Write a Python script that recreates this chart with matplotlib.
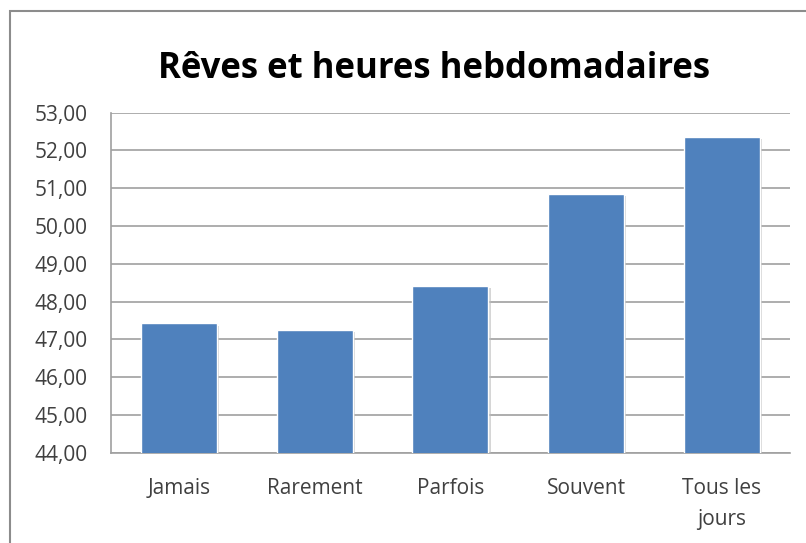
import matplotlib.pyplot as plt
import matplotlib.patheffects as pe
from matplotlib.patches import Rectangle
from matplotlib.ticker import FuncFormatter

categories = ["Jamais", "Rarement", "Parfois", "Souvent", "Tous les\njours"]
heures = [47.42, 47.26, 48.41, 50.85, 52.35]
titre = "Rêves et heures hebdomadaires"

plt.rcParams['font.family'] = ['Open Sans', 'DejaVu Sans']

fig = plt.figure(figsize=(8.06, 5.43), dpi=100)
ax = fig.add_axes([0.1377, 0.1663, 0.8423, 0.6262])

# cadre du graphique (style Excel)
fig.patches.append(Rectangle((10 / 806, -0.1), 1.2, 1 - 11 / 543 + 0.1,
                             transform=fig.transFigure, fill=False,
                             edgecolor='#8c8c8c', linewidth=1.5))

x = range(len(categories))
bars = ax.bar(x, heures, width=0.56, bottom=0, color='#4f81bd',
              edgecolor='white', linewidth=1, zorder=3)
for b in bars:
    b.set_path_effects([pe.SimplePatchShadow(offset=(1.5, -1.5), shadow_rgbFace='#bbbbbb', alpha=0.6),
                        pe.Normal()])

ax.set_ylim(44, 53)
ax.set_xlim(-0.5, len(categories) - 0.5)
ax.set_yticks(range(44, 54))
ax.yaxis.set_major_formatter(FuncFormatter(lambda v, p: f"{v:.2f}".replace('.', ',')))
ax.set_xticks(list(x))
ax.set_xticklabels(categories, linespacing=1.65)
ax.tick_params(axis='both', length=0, labelsize=15, labelcolor='#404040')
ax.tick_params(axis='y', pad=17)
ax.tick_params(axis='x', pad=18)

ax.grid(axis='y', color='#a0a0a0', linewidth=1.2, zorder=0)
for s in ['top', 'right']:
    ax.spines[s].set_visible(False)
for s in ['left', 'bottom']:
    ax.spines[s].set_color('#a0a0a0')
    ax.spines[s].set_linewidth(1.2)

fig.text(434 / 806, 1 - 69 / 543, titre, ha='center', va='center',
         fontsize=25, fontweight='bold', color='black')

fig.savefig('out.png', dpi=100)
